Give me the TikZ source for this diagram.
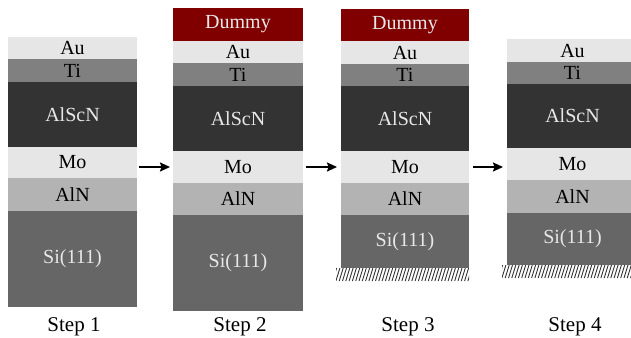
\documentclass[tikz,border=0pt]{standalone}
\usepackage{fontspec}
\setmainfont{Liberation Serif}
\usetikzlibrary{arrows.meta}
\definecolor{cAu}{HTML}{E6E6E6}
\definecolor{cTi}{HTML}{808080}
\definecolor{cAlScN}{HTML}{333333}
\definecolor{cMo}{HTML}{E6E6E6}
\definecolor{cAlN}{HTML}{B3B3B3}
\definecolor{cSi}{HTML}{666666}
\definecolor{cDummy}{HTML}{800000}
\definecolor{lighttext}{HTML}{E8E8E8}
\tikzset{
  layer/.style={rectangle, draw=none, inner sep=0pt, outer sep=0pt, anchor=north west,
    font=\fontsize{20}{22}\selectfont},
  au/.style={layer, fill=cAu, text=black},
  ti/.style={layer, fill=cTi, text=black},
  alscn/.style={layer, fill=cAlScN, text=lighttext},
  mo/.style={layer, fill=cMo, text=black},
  aln/.style={layer, fill=cAlN, text=black},
  si/.style={layer, fill=cSi, text=lighttext},
  dummy/.style={layer, fill=cDummy, text=lighttext},
  steplabel/.style={anchor=base, inner sep=0pt, font=\fontsize{21}{24}\selectfont},
  arrowline/.style={line width=1.8pt, -{Stealth[length=10pt,width=9pt,inset=1.5pt]}},
  hatchline/.style={line width=0.9pt, draw=cAlScN}
}
\begin{document}
\begin{tikzpicture}[x=1pt,y=-1pt]
\useasboundingbox (0,0) rectangle (631,337);
% Step 1
\node[au,    minimum width=129pt, minimum height=22pt] (au1) at (8,37) {Au};
\node[ti,    minimum width=129pt, minimum height=23pt] (ti1) at (8,59) {Ti};
\node[alscn, minimum width=129pt, minimum height=65pt] (alscn1) at (8,82) {AlScN};
\node[mo,    minimum width=129pt, minimum height=31pt] (mo1) at (8,147) {Mo};
\node[aln,   minimum width=129pt, minimum height=33pt] (aln1) at (8,178) {AlN};
\node[si,    minimum width=129pt, minimum height=96pt] (si1) at (8,211) {Si(111)};
\node[steplabel] (s1) at (74,331) {Step 1};
% Step 2
\node[dummy, minimum width=130pt, minimum height=33pt] (du2) at (173,8) {Dummy};
\node[au,    minimum width=130pt, minimum height=22pt] (au2) at (173,41) {Au};
\node[ti,    minimum width=130pt, minimum height=23pt] (ti2) at (173,63) {Ti};
\node[alscn, minimum width=130pt, minimum height=65pt] (alscn2) at (173,86) {AlScN};
\node[mo,    minimum width=130pt, minimum height=32pt] (mo2) at (173,151) {Mo};
\node[aln,   minimum width=130pt, minimum height=32pt] (aln2) at (173,183) {AlN};
\node[si,    minimum width=130pt, minimum height=96pt] (si2) at (173,215) {Si(111)};
\node[steplabel] (s2) at (240,331) {Step 2};
% Step 3
\node[dummy, minimum width=128pt, minimum height=32pt] (du3) at (341,9) {Dummy};
\node[au,    minimum width=128pt, minimum height=23pt] (au3) at (341,41) {Au};
\node[ti,    minimum width=128pt, minimum height=22pt] (ti3) at (341,64) {Ti};
\node[alscn, minimum width=128pt, minimum height=65pt] (alscn3) at (341,86) {AlScN};
\node[mo,    minimum width=128pt, minimum height=32pt] (mo3) at (341,151) {Mo};
\node[aln,   minimum width=128pt, minimum height=32pt] (aln3) at (341,183) {AlN};
\node[si,    minimum width=128pt, minimum height=53pt] (si3) at (341,215) {Si(111)};
\node[steplabel] (s3) at (408,331) {Step 3};
\begin{scope}
  \clip (336,268) rectangle (469,281);
  \foreach \i in {0,...,45} \draw[hatchline] (326+3.3*\i,281) -- (330+3.3*\i,268);
\end{scope}
% Step 4
\node[au,    minimum width=131pt, minimum height=23pt] (au4) at (507,39) {Au};
\node[ti,    minimum width=131pt, minimum height=22pt] (ti4) at (507,62) {Ti};
\node[alscn, minimum width=131pt, minimum height=64pt] (alscn4) at (507,84) {AlScN};
\node[mo,    minimum width=131pt, minimum height=32pt] (mo4) at (507,148) {Mo};
\node[aln,   minimum width=131pt, minimum height=33pt] (aln4) at (507,180) {AlN};
\node[si,    minimum width=131pt, minimum height=52pt] (si4) at (507,213) {Si(111)};
\node[steplabel] (s4) at (575,331) {Step 4};
\begin{scope}
  \clip (502,265) rectangle (640,278);
  \foreach \i in {0,...,48} \draw[hatchline] (492+3.3*\i,278) -- (496+3.3*\i,265);
\end{scope}
% Arrows
\draw[arrowline, shorten <=2pt, shorten >=3pt] (mo1.east |- mo2.west) -- (mo2.west);
\draw[arrowline, shorten <=3pt, shorten >=4pt] (mo2.east) -- (mo2.east -| mo3.west);
\draw[arrowline, shorten <=4pt, shorten >=4pt] (mo3.east) -- (mo3.east -| mo4.west);
\end{tikzpicture}
\end{document}
